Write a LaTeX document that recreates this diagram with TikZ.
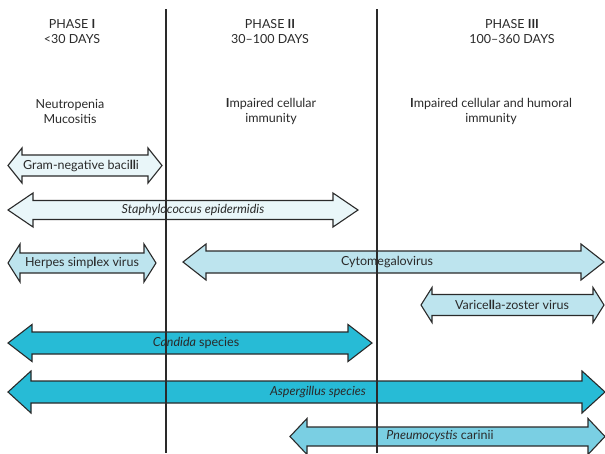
\documentclass[tikz,border=0pt]{standalone}
\usepackage{fontspec}
\setmainfont{Lato}
\definecolor{palecyan}{HTML}{E9F6F9}
\definecolor{lightcyan}{HTML}{BDE4EE}
\definecolor{midcyan}{HTML}{7ACFE3}
\definecolor{deepcyan}{HTML}{27BBD6}
\definecolor{inkgray}{HTML}{2A2A2A}
% double-headed block arrow: style, left tip x, right tip x, centre y, body half-height, head half-height, head length
\newcommand{\dblarrow}[7]{%
  \draw[#1] (#2,-#4) -- ({#2+#7},{-#4+#6}) -- ({#2+#7},{-#4+#5}) -- ({#3-#7},{-#4+#5})
    -- ({#3-#7},{-#4+#6}) -- (#3,-#4) -- ({#3-#7},{-#4-#6}) -- ({#3-#7},{-#4-#5})
    -- ({#2+#7},{-#4-#5}) -- ({#2+#7},{-#4-#6}) -- cycle;}
\begin{document}
\begin{tikzpicture}[x=1pt,y=1pt,
  blockarrow/.style={draw=inkgray, line width=1.1pt, line join=miter},
  lbl/.style={text=inkgray, font=\fontsize{12.5}{15}\selectfont, align=center, inner sep=0pt},
  divider/.style={draw=inkgray, line width=1.3pt}]
\useasboundingbox (0,0) rectangle (605,-453);

% header labels
\node[lbl] (p1) at (72,-32) {PHASE \textbf{I}\\<30 DAYS};
\node[lbl] (p2) at (270,-32) {PHASE \textbf{II}\\30–100 DAYS};
\node[lbl] (p3) at (512,-32) {PHASE \textbf{III}\\100–360 DAYS};
\node[lbl] (s1) at (70,-111) {Neutropenia\\Mucositis};
\node[lbl] (s2) at (271,-111) {\textbf{I}mpaired cellular\\immunity};
\node[lbl] (s3) at (491,-111) {\textbf{I}mpaired cellular and humoral\\immunity};

% pathogen arrows
\dblarrow{blockarrow, fill=palecyan}{8}{162}{165.5}{10.5}{17.5}{14}
\node[lbl] (gram) at (81,-165.5) {Gram-negative baci\textbf{ll}i};

\dblarrow{blockarrow, fill=palecyan}{8}{358}{210}{9.5}{17}{25}
\node[lbl] (staph) at (193,-210) {\itshape Staphylococcus epidermidis};

\dblarrow{blockarrow, fill=lightcyan}{8}{156}{263}{10}{19}{12}
\node[lbl] (hsv) at (82,-263) {Herpes simp\textbf{l}ex virus};

\dblarrow{blockarrow, fill=lightcyan}{183}{604}{262}{11}{18}{23}
\node[lbl] (cmv) at (387,-262) {Cytomegalovirus};

\dblarrow{blockarrow, fill=lightcyan}{421}{604}{305}{10.5}{17.5}{11}
\node[lbl] (vzv) at (512,-305) {Varice\textbf{ll}a-zoster virus};

\dblarrow{blockarrow, fill=deepcyan}{8}{372}{343}{11}{18.5}{24}
\node[lbl] (cand) at (196,-343) {\textit{Candida} species};

\dblarrow{blockarrow, fill=deepcyan}{8}{605}{392}{11}{21}{23}
\node[lbl] (asp) at (318,-392) {\itshape Aspergillus species};

\dblarrow{blockarrow, fill=midcyan}{290}{605}{436.5}{9.5}{18}{17}
\node[lbl] (pneu) at (440,-436.5) {\textit{Pneumocystis} carinii};

% phase dividers
\coordinate (d1top) at (166,-9);
\coordinate (d1bot) at (166,-453);
\coordinate (d2top) at (377,-9);
\coordinate (d2bot) at (377,-453);
\draw[divider] (d1top) -- (d1bot);
\draw[divider] (d2top) -- (d2bot);
\end{tikzpicture}
\end{document}
